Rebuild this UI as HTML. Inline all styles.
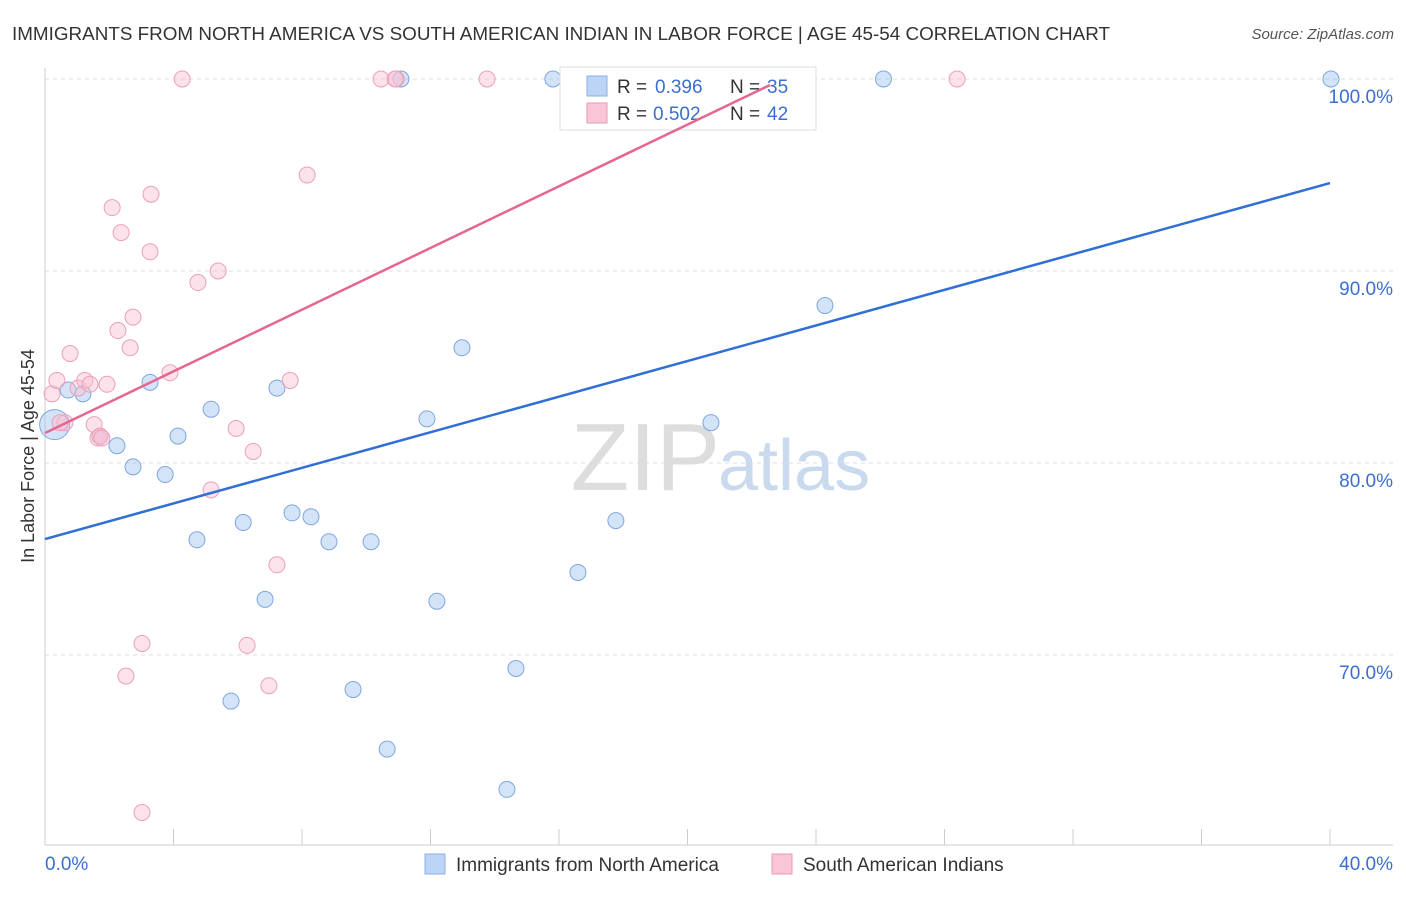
<!DOCTYPE html>
<html><head><meta charset="utf-8">
<style>
body{margin:0;background:#fff;font-family:"Liberation Sans",sans-serif;}
svg text{font-family:"Liberation Sans",sans-serif;}
</style></head>
<body>
<svg width="1406" height="892">
<text x="12" y="40" font-size="18.8" fill="#333" textLength="1098" lengthAdjust="spacingAndGlyphs">IMMIGRANTS FROM NORTH AMERICA VS SOUTH AMERICAN INDIAN IN LABOR FORCE | AGE 45-54 CORRELATION CHART</text>
<text x="1394" y="39" font-size="15" fill="#555" font-style="italic" text-anchor="end">Source: ZipAtlas.com</text>
<g id="grid"></g>
<text x="720" y="490" font-size="96" fill="#ddd" text-anchor="end" font-family="Liberation Serif">ZIP</text>
<text x="718" y="490" font-size="72" fill="#c9d9ee">atlas</text>
<g id="pts"></g>
<g>
<rect x="560" y="67" width="256" height="63" fill="#fff" stroke="#ddd"/>
<rect x="587" y="76" width="20" height="20" fill="#bcd4f6" stroke="#8ab0e6"/>
<rect x="587" y="103" width="20" height="20" fill="#f8c6d6" stroke="#ec9ab5"/>
<text x="617" y="93" font-size="19" fill="#333">R =</text>
<text x="655" y="93" font-size="19" fill="#3a6fd0">0.396</text>
<text x="730" y="93" font-size="19" fill="#333">N =</text>
<text x="767" y="93" font-size="19" fill="#3a6fd0">35</text>
<text x="617" y="120" font-size="19" fill="#333">R =</text>
<text x="653" y="120" font-size="19" fill="#3a6fd0">0.502</text>
<text x="730" y="120" font-size="19" fill="#333">N =</text>
<text x="767" y="120" font-size="19" fill="#3a6fd0">42</text>
</g>
<g id="lines"></g>
<text transform="translate(34,456) rotate(-90)" font-size="18" fill="#333" text-anchor="middle">In Labor Force | Age 45-54</text>
<g>
<rect x="425" y="854" width="20" height="20" fill="#bcd4f6" stroke="#8ab0e6"/>
<text x="456" y="871" font-size="19" fill="#333">Immigrants from North America</text>
<rect x="772" y="854" width="20" height="20" fill="#f8c6d6" stroke="#ec9ab5"/>
<text x="803" y="871" font-size="19" fill="#333">South American Indians</text>
</g>
</svg>
<script>
const yTicks=[100,90,80,70];
const yTickLabels=["100.0%","90.0%","80.0%","70.0%"];
const xTickLabels=["0.0%","40.0%"];
const blueX=[0.3,0.72,1.18,1.71,2.24,2.74,3.27,3.74,4.14,4.73,5.17,5.79,6.17,6.85,7.22,7.69,8.28,8.84,9.59,10.15,10.65,11.08,11.89,12.2,12.98,14.38,14.66,15.81,16.59,17.28,17.77,20.73,24.28,26.1,40.03];
const blueY=[82.0,83.8,83.6,81.4,80.9,79.8,84.2,79.4,81.4,76.0,82.8,67.6,76.9,72.9,83.9,77.4,77.2,75.9,68.2,75.9,65.1,100,82.3,72.8,86.0,63.0,69.3,100,74.3,100,77.0,82.1,88.2,100,100];
const pinkX=[0.22,0.37,0.62,0.78,1.03,1.24,1.4,1.53,1.65,1.93,2.09,2.27,2.37,2.52,2.65,2.74,3.02,3.02,3.27,3.3,3.89,4.27,4.76,5.17,5.39,5.95,6.29,6.48,6.97,7.22,7.63,8.16,10.46,10.93,13.76,17.31,22.51,28.39,1.71,0.47,10.9,1.77];
const pinkY=[83.6,84.3,82.1,85.7,83.9,84.3,84.1,82.0,81.3,84.1,93.3,86.9,92.0,68.9,86.0,87.6,70.6,61.8,91.0,94.0,84.7,100,89.4,78.6,90.0,81.8,70.5,80.6,68.4,74.7,84.3,95.0,100,100,100,100,100,100,81.4,82.1,100,81.3];
const blueLine=[76.04,94.58];
const pinkLine=[81.56,99.69,22.57];
const NS="http://www.w3.org/2000/svg";
const sx=v=>45+v/40*1285, sy=v=>79+(100-v)*19.2;
function mk(t,a,p){const e=document.createElementNS(NS,t);for(const k in a)e.setAttribute(k,a[k]);p.appendChild(e);return e;}
const g=document.getElementById('grid');
yTicks.forEach((t,i)=>{
 const l=mk('line',{x1:45,x2:1393,y1:sy(t),y2:sy(t),stroke:'#ddd','stroke-dasharray':'4,4'},g);
 
 
 const tx=mk('text',{x:1393,y:sy(t)+24,'font-size':19,fill:'#3a6fd0','text-anchor':'end'},g);
 tx.textContent=yTickLabels[i];
 
 
});
mk('line',{x1:45,x2:45,y1:68,y2:845,stroke:'#ccc'},g);
mk('line',{x1:45,x2:1393,y1:845,y2:845,stroke:'#ccc'},g);
for(let i=0;i<=10;i++){const l=mk('line',{x1:sx(i*4),x2:sx(i*4),y1:829,y2:845,stroke:'#ccc'},g);
 
 }
[[0,'start',45],[1,'end',1393]].forEach(([i,a,x])=>{const t=mk('text',{x:x,y:870,'font-size':19,fill:'#3a6fd0','text-anchor':a},g);t.textContent=xTickLabels[i];
 
 });
const p=document.getElementById('pts');
blueX.forEach((x,i)=>{const c=mk('circle',{cx:sx(x),cy:sy(blueY[i]),r:i==0?15:8,fill:'rgba(160,195,240,0.45)',stroke:'#7ea6e0','stroke-width':1},p);
 
 });
pinkX.forEach((x,i)=>{const c=mk('circle',{cx:sx(x),cy:sy(pinkY[i]),r:8,fill:'rgba(248,190,210,0.45)',stroke:'#eca0b8','stroke-width':1},p);
 
 });
const L=document.getElementById('lines');
const bl=mk('line',{x1:sx(0),y1:sy(blueLine[0]),x2:sx(40),y2:sy(blueLine[1]),stroke:'#2f6fd6','stroke-width':2.5},L);


const pl=mk('line',{x1:sx(0),y1:sy(pinkLine[0]),x2:sx(pinkLine[2]),y2:sy(pinkLine[1]),stroke:'#e5668f','stroke-width':2.5},L);


</script>
</body></html>
